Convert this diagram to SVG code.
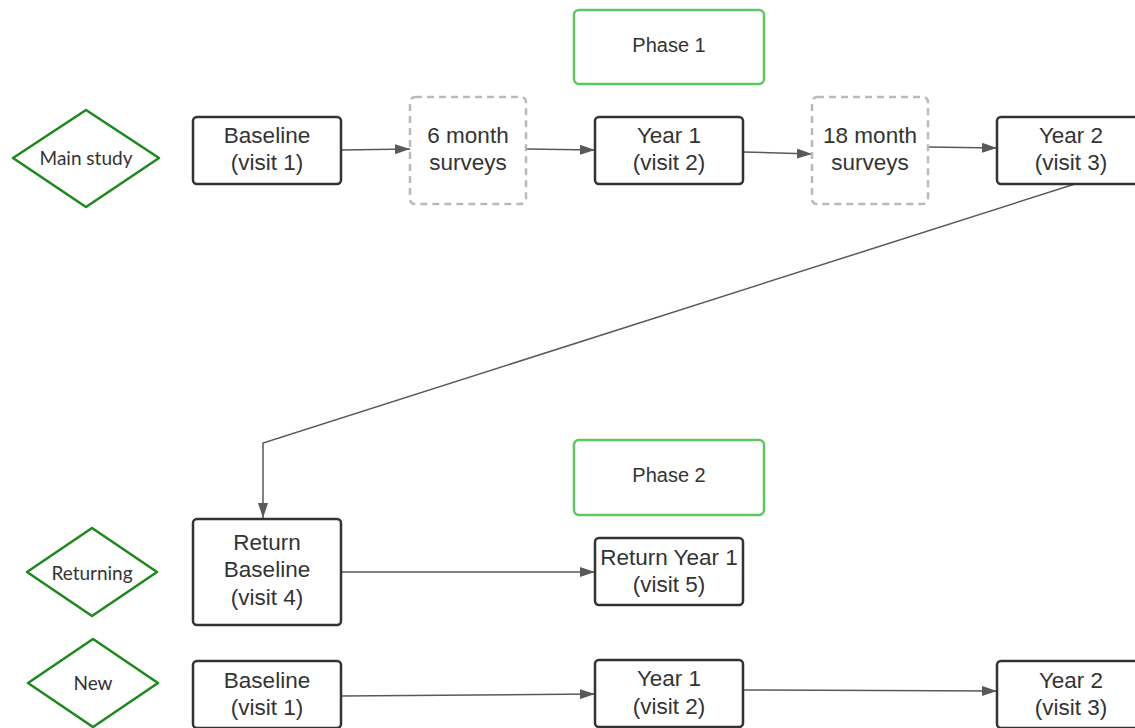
<svg xmlns="http://www.w3.org/2000/svg" width="1135" height="728" viewBox="0 0 1135 728">
<style>
.box{fill:#fff;stroke:#333;stroke-width:2.5}
.dash{fill:#fff;stroke:#b6bcbc;stroke-width:2.5;stroke-dasharray:7 5}
.phase{fill:#fff;stroke:#5cc862;stroke-width:2.5}
.dia{fill:#fff;stroke:#1a8a1a;stroke-width:2.5;stroke-linejoin:round}
.t{font-family:"Liberation Sans",Arial,sans-serif;font-size:22.5px;fill:#333;text-anchor:middle}
.tp{font-family:"Liberation Sans",Arial,sans-serif;font-size:20px;fill:#333;text-anchor:middle}
.td{font-family:"Lato","Open Sans",sans-serif;font-size:19px;fill:#333;text-anchor:middle}
.c{fill:none;stroke:#595959;stroke-width:1.5;marker-end:url(#ah)}
</style>
<defs>
<marker id="ah" viewBox="0 0 15 10" refX="15" refY="5" markerWidth="15" markerHeight="10" markerUnits="userSpaceOnUse" orient="auto">
<path d="M0,0 L15,5 L0,10 Z" fill="#595959"/>
</marker>
</defs>
<g id="connectors">
<path class="c" d="M341,150 L410,149"/>
<path class="c" d="M526,149 L595,150"/>
<path class="c" d="M743,152 L812,154"/>
<path class="c" d="M928,147 L997,148"/>
<path class="c" d="M1075,184 L263,443 L263,518"/>
<path class="c" d="M341,572 L595,572"/>
<path class="c" d="M341,696 L595,694"/>
<path class="c" d="M743,690 L997,691"/>
</g>
<g id="phase1"><rect class="phase" x="574" y="10" width="190" height="74" rx="5"/><text class="tp" x="669" y="52">Phase 1</text></g>
<g id="phase2"><rect class="phase" x="574" y="440" width="190" height="75" rx="5"/><text class="tp" x="669" y="482">Phase 2</text></g>
<g id="main-study"><path class="dia" d="M86,110 L159,158 L86,207 L13,158 Z"/><text class="td" x="86" y="165">Main study</text></g>
<g id="returning"><path class="dia" d="M92,528 L157,572 L92,616 L27,572 Z"/><text class="td" x="92" y="580">Returning</text></g>
<g id="new"><path class="dia" d="M93,639 L158,683 L93,727 L28,683 Z"/><text class="td" x="93" y="690">New</text></g>
<g id="baseline1"><rect class="box" x="193" y="117" width="148" height="67" rx="4"/><text class="t" x="267" y="143">Baseline</text><text class="t" x="267" y="170">(visit 1)</text></g>
<g id="six-month"><rect class="dash" x="410" y="97" width="116" height="107" rx="5"/><text class="t" x="468" y="143">6 month</text><text class="t" x="468" y="170">surveys</text></g>
<g id="year1"><rect class="box" x="595" y="117" width="148" height="67" rx="4"/><text class="t" x="669" y="143">Year 1</text><text class="t" x="669" y="170">(visit 2)</text></g>
<g id="eighteen-month"><rect class="dash" x="812" y="97" width="116" height="107" rx="5"/><text class="t" x="870" y="143">18 month</text><text class="t" x="870" y="170">surveys</text></g>
<g id="year2"><rect class="box" x="997" y="117" width="148" height="67" rx="4"/><text class="t" x="1071" y="143">Year 2</text><text class="t" x="1071" y="170">(visit 3)</text></g>
<g id="return-baseline"><rect class="box" x="193" y="519" width="148" height="106" rx="4"/><text class="t" x="267" y="550">Return</text><text class="t" x="267" y="577">Baseline</text><text class="t" x="267" y="605">(visit 4)</text></g>
<g id="return-year1"><rect class="box" x="595" y="538" width="148" height="67" rx="4"/><text class="t" x="669" y="565">Return Year 1</text><text class="t" x="669" y="592">(visit 5)</text></g>
<g id="new-baseline"><rect class="box" x="193" y="661" width="148" height="67" rx="4"/><text class="t" x="267" y="688">Baseline</text><text class="t" x="267" y="715">(visit 1)</text></g>
<g id="new-year1"><rect class="box" x="595" y="660" width="148" height="67" rx="4"/><text class="t" x="669" y="686">Year 1</text><text class="t" x="669" y="714">(visit 2)</text></g>
<g id="new-year2"><rect class="box" x="997" y="661" width="148" height="67" rx="4"/><text class="t" x="1071" y="688">Year 2</text><text class="t" x="1071" y="715">(visit 3)</text></g>
</svg>
